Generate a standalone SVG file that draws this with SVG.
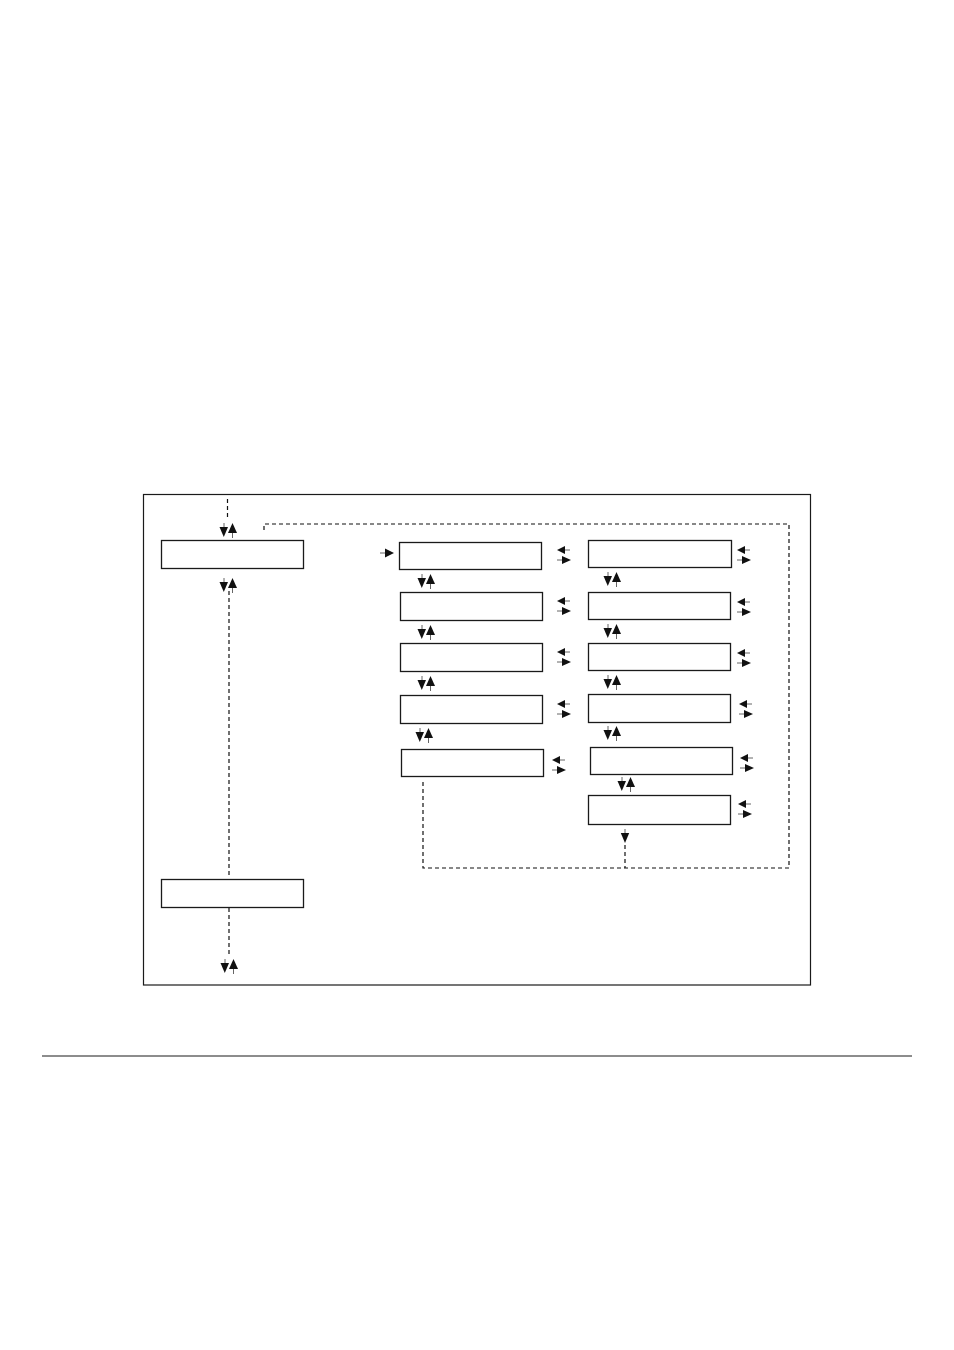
<svg xmlns="http://www.w3.org/2000/svg" xmlns:xlink="http://www.w3.org/1999/xlink" width="954" height="1350" viewBox="0 0 954 1350">
<style>
.box{fill:#fff;stroke:#1a1a1a;stroke-width:1.3}
.dash{fill:none;stroke:#111;stroke-width:1.2;stroke-dasharray:4,3}
.stem{stroke:#666;stroke-width:1}
.tri{fill:#111}
</style>
<defs>
<g id="vpair">
<line class="stem" x1="-4" y1="0" x2="-4" y2="5"/>
<polygon class="tri" points="-8.5,4 0,4 -4.2,14"/>
<polygon class="tri" points="0,10 9,10 4.5,0"/>
<line class="stem" x1="4.5" y1="10" x2="4.5" y2="15"/>
</g>
<g id="hpair">
<polygon class="tri" points="0,4 8,0 8,8"/>
<line class="stem" x1="8" y1="4" x2="13" y2="4"/>
<line class="stem" x1="0" y1="14" x2="5" y2="14"/>
<polygon class="tri" points="5,10 5,18 14,14"/>
</g>
<g id="down">
<line class="stem" x1="0" y1="0" x2="0" y2="5"/>
<polygon class="tri" points="-4.2,4 4.2,4 0,14"/>
</g>
</defs>
<rect x="0" y="0" width="954" height="1350" fill="#fff"/>
<rect x="143.5" y="494.5" width="667" height="490.5" fill="none" stroke="#1a1a1a" stroke-width="1.2"/>
<line x1="42" y1="1056" x2="912" y2="1056" stroke="#1a1a1a" stroke-width="1"/>
<g id="connectors">
<line class="dash" x1="227.5" y1="499" x2="227.5" y2="519"/>
<line class="dash" x1="229" y1="591" x2="229" y2="877"/>
<line class="dash" x1="229" y1="908" x2="229" y2="957"/>
<polyline class="dash" points="264,530 264,524 789,524 789,868 423,868 423,781"/>
<line class="dash" x1="625" y1="845" x2="625" y2="868"/>
<use xlink:href="#vpair" x="228" y="523"/>
<use xlink:href="#vpair" x="228" y="578"/>
<use xlink:href="#vpair" x="229" y="959"/>
<use xlink:href="#vpair" x="426" y="574"/>
<use xlink:href="#vpair" x="426" y="625"/>
<use xlink:href="#vpair" x="426" y="676"/>
<use xlink:href="#vpair" x="424" y="728"/>
<use xlink:href="#vpair" x="612" y="572"/>
<use xlink:href="#vpair" x="612" y="624"/>
<use xlink:href="#vpair" x="612" y="675"/>
<use xlink:href="#vpair" x="612" y="726"/>
<use xlink:href="#vpair" x="626" y="777"/>
<use xlink:href="#down" x="625" y="829"/>
<use xlink:href="#hpair" x="557" y="546"/>
<use xlink:href="#hpair" x="557" y="597"/>
<use xlink:href="#hpair" x="557" y="648"/>
<use xlink:href="#hpair" x="557" y="700"/>
<use xlink:href="#hpair" x="552" y="756"/>
<use xlink:href="#hpair" x="737" y="546"/>
<use xlink:href="#hpair" x="737" y="598"/>
<use xlink:href="#hpair" x="737" y="649"/>
<use xlink:href="#hpair" x="739" y="700"/>
<use xlink:href="#hpair" x="740" y="754"/>
<use xlink:href="#hpair" x="738" y="800"/>
<line class="stem" x1="380" y1="553" x2="387" y2="553"/>
<polygon class="tri" points="385,548.5 385,557.5 394,553"/>
</g>
<g id="node-left-top"><rect class="box" x="161.5" y="540.5" width="142" height="28"/></g>
<g id="node-left-bottom"><rect class="box" x="161.5" y="879.5" width="142" height="28"/></g>
<g id="node-m1"><rect class="box" x="399.5" y="542.5" width="142" height="27"/></g>
<g id="node-m2"><rect class="box" x="400.5" y="592.5" width="142" height="28"/></g>
<g id="node-m3"><rect class="box" x="400.5" y="643.5" width="142" height="28"/></g>
<g id="node-m4"><rect class="box" x="400.5" y="695.5" width="142" height="28"/></g>
<g id="node-m5"><rect class="box" x="401.5" y="749.5" width="142" height="27"/></g>
<g id="node-r1"><rect class="box" x="588.5" y="540.5" width="143" height="27"/></g>
<g id="node-r2"><rect class="box" x="588.5" y="592.5" width="142" height="27"/></g>
<g id="node-r3"><rect class="box" x="588.5" y="643.5" width="142" height="27"/></g>
<g id="node-r4"><rect class="box" x="588.5" y="694.5" width="142" height="28"/></g>
<g id="node-r5"><rect class="box" x="590.5" y="747.5" width="142" height="27"/></g>
<g id="node-r6"><rect class="box" x="588.5" y="795.5" width="142" height="29"/></g>
</svg>
